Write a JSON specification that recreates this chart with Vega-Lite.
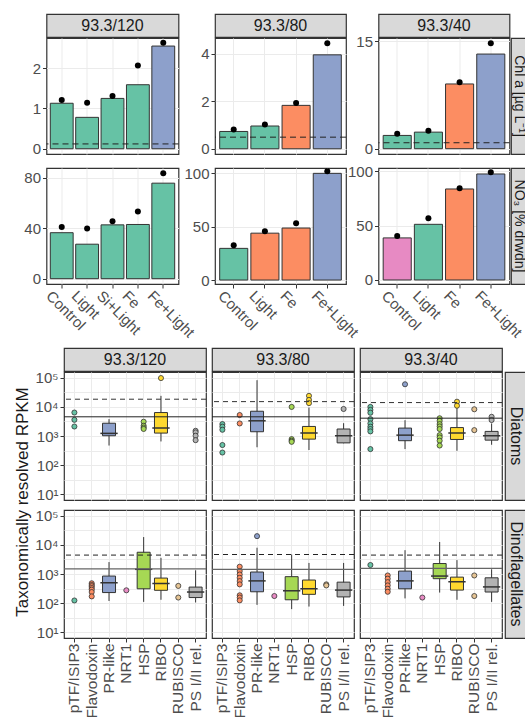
{
"$schema": "https://vega.github.io/schema/vega-lite/v6.json",
"background": "white",
"padding": {"left": 13, "top": 13, "right": 0, "bottom": 0},
"config": {
  "font": "Liberation Sans",
  "view": {"stroke": "#333333", "strokeWidth": 1.2},
  "axis": {"domain": false, "labelColor": "#4d4d4d", "labelFontSize": 15, "labelFont": "Liberation Sans", "tickColor": "#333333", "tickSize": 4, "tickWidth": 1, "labelPadding": 2, "gridColor": "#ebebeb", "gridWidth": 1, "labelOverlap": false},
  "text": {"font": "Liberation Sans"}
},
"datasets": {
  "labels": [{"s": "93.3/120"}, {"s": "93.3/80"}, {"s": "93.3/40"}, {"s": "Chl a [µg L⁻¹]"}, {"s": "NO₃ [% drwdn]"}, {"s": "Diatoms"}, {"s": "Dinoflagellates"}, {"s": "Taxonomically resolved RPKM"}],
  "top": [
    {"v":"Chl","site":"93.3/120","trt":"Control","bar":1.13,"pt":1.21,"grp":"A"},
    {"v":"Chl","site":"93.3/120","trt":"Light","bar":0.78,"pt":1.14,"grp":"A"},
    {"v":"Chl","site":"93.3/120","trt":"Si+Light","bar":1.25,"pt":1.31,"grp":"A"},
    {"v":"Chl","site":"93.3/120","trt":"Fe","bar":1.59,"pt":2.07,"grp":"A"},
    {"v":"Chl","site":"93.3/120","trt":"Fe+Light","bar":2.55,"pt":2.63,"grp":"C"},
    {"v":"Chl","site":"93.3/80","trt":"Control","bar":0.73,"pt":0.81,"grp":"A"},
    {"v":"Chl","site":"93.3/80","trt":"Light","bar":0.96,"pt":1.02,"grp":"A"},
    {"v":"Chl","site":"93.3/80","trt":"Fe","bar":1.83,"pt":1.93,"grp":"B"},
    {"v":"Chl","site":"93.3/80","trt":"Fe+Light","bar":3.96,"pt":4.45,"grp":"C"},
    {"v":"Chl","site":"93.3/40","trt":"Control","bar":1.85,"pt":2.08,"grp":"A"},
    {"v":"Chl","site":"93.3/40","trt":"Light","bar":2.31,"pt":2.5,"grp":"A"},
    {"v":"Chl","site":"93.3/40","trt":"Fe","bar":9.03,"pt":9.26,"grp":"B"},
    {"v":"Chl","site":"93.3/40","trt":"Fe+Light","bar":13.2,"pt":14.7,"grp":"C"},
    {"v":"NO3","site":"93.3/120","trt":"Control","bar":36.4,"pt":41.0,"grp":"A"},
    {"v":"NO3","site":"93.3/120","trt":"Light","bar":27.3,"pt":39.7,"grp":"A"},
    {"v":"NO3","site":"93.3/120","trt":"Si+Light","bar":42.6,"pt":45.5,"grp":"A"},
    {"v":"NO3","site":"93.3/120","trt":"Fe","bar":42.9,"pt":53.2,"grp":"A"},
    {"v":"NO3","site":"93.3/120","trt":"Fe+Light","bar":75.6,"pt":83.4,"grp":"A"},
    {"v":"NO3","site":"93.3/80","trt":"Control","bar":29.6,"pt":32.4,"grp":"A"},
    {"v":"NO3","site":"93.3/80","trt":"Light","bar":43.8,"pt":45.6,"grp":"B"},
    {"v":"NO3","site":"93.3/80","trt":"Fe","bar":48.6,"pt":53.0,"grp":"B"},
    {"v":"NO3","site":"93.3/80","trt":"Fe+Light","bar":99.7,"pt":101.6,"grp":"C"},
    {"v":"NO3","site":"93.3/40","trt":"Control","bar":38.7,"pt":40.5,"grp":"D"},
    {"v":"NO3","site":"93.3/40","trt":"Light","bar":51.2,"pt":56.7,"grp":"A"},
    {"v":"NO3","site":"93.3/40","trt":"Fe","bar":83.7,"pt":84.4,"grp":"B"},
    {"v":"NO3","site":"93.3/40","trt":"Fe+Light","bar":97.5,"pt":99.1,"grp":"C"}
  ],
  "tbase": [{"site":"93.3/120","base":0.12},{"site":"93.3/80","base":0.49},{"site":"93.3/40","base":0.83}],
  "boxes": [
    {"taxon":"Diatoms","site":"93.3/120","gene":"PR-like","lo":470,"q1":1020,"med":1230,"q3":2750,"hi":3800},
    {"taxon":"Diatoms","site":"93.3/120","gene":"RIBO","lo":650,"q1":1260,"med":1870,"q3":6400,"hi":24000},
    {"taxon":"Diatoms","site":"93.3/80","gene":"PR-like","lo":410,"q1":1400,"med":3330,"q3":7100,"hi":83000},
    {"taxon":"Diatoms","site":"93.3/80","gene":"RIBO","lo":330,"q1":780,"med":1270,"q3":2130,"hi":9500},
    {"taxon":"Diatoms","site":"93.3/80","gene":"PS I/II rel.","lo":560,"q1":580,"med":1020,"q3":1740,"hi":2760},
    {"taxon":"Diatoms","site":"93.3/40","gene":"PR-like","lo":355,"q1":690,"med":1070,"q3":1870,"hi":3500},
    {"taxon":"Diatoms","site":"93.3/40","gene":"RIBO","lo":310,"q1":760,"med":1260,"q3":1950,"hi":9500},
    {"taxon":"Diatoms","site":"93.3/40","gene":"PS I/II rel.","lo":500,"q1":720,"med":1020,"q3":1440,"hi":2700},
    {"taxon":"Dinoflagellates","site":"93.3/120","gene":"PR-like","lo":118,"q1":230,"med":500,"q3":850,"hi":2570},
    {"taxon":"Dinoflagellates","site":"93.3/120","gene":"HSP","lo":110,"q1":310,"med":1450,"q3":5600,"hi":18600},
    {"taxon":"Dinoflagellates","site":"93.3/120","gene":"RIBO","lo":130,"q1":275,"med":470,"q3":725,"hi":3600},
    {"taxon":"Dinoflagellates","site":"93.3/120","gene":"PS I/II rel.","lo":105,"q1":155,"med":240,"q3":355,"hi":1340},
    {"taxon":"Dinoflagellates","site":"93.3/80","gene":"PR-like","lo":87,"q1":245,"med":580,"q3":1170,"hi":8000},
    {"taxon":"Dinoflagellates","site":"93.3/80","gene":"HSP","lo":62,"q1":130,"med":265,"q3":810,"hi":4700},
    {"taxon":"Dinoflagellates","site":"93.3/80","gene":"RIBO","lo":76,"q1":200,"med":310,"q3":620,"hi":2400},
    {"taxon":"Dinoflagellates","site":"93.3/80","gene":"PS I/II rel.","lo":80,"q1":163,"med":280,"q3":525,"hi":2400},
    {"taxon":"Dinoflagellates","site":"93.3/40","gene":"PR-like","lo":145,"q1":310,"med":580,"q3":1260,"hi":6600},
    {"taxon":"Dinoflagellates","site":"93.3/40","gene":"HSP","lo":230,"q1":690,"med":850,"q3":2290,"hi":12600},
    {"taxon":"Dinoflagellates","site":"93.3/40","gene":"RIBO","lo":130,"q1":280,"med":540,"q3":780,"hi":3000},
    {"taxon":"Dinoflagellates","site":"93.3/40","gene":"PS I/II rel.","lo":110,"q1":240,"med":360,"q3":740,"hi":1450}
  ],
  "pts": [
    {"taxon":"Diatoms","site":"93.3/120","gene":"pTF/ISIP3","v":6400},
    {"taxon":"Diatoms","site":"93.3/120","gene":"pTF/ISIP3","v":3600},
    {"taxon":"Diatoms","site":"93.3/120","gene":"pTF/ISIP3","v":2120},
    {"taxon":"Diatoms","site":"93.3/120","gene":"HSP","v":3100},
    {"taxon":"Diatoms","site":"93.3/120","gene":"HSP","v":2250},
    {"taxon":"Diatoms","site":"93.3/120","gene":"HSP","v":1950},
    {"taxon":"Diatoms","site":"93.3/120","gene":"HSP","v":1750},
    {"taxon":"Diatoms","site":"93.3/120","gene":"RIBO","v":98000},
    {"taxon":"Diatoms","site":"93.3/120","gene":"PS I/II rel.","v":1510},
    {"taxon":"Diatoms","site":"93.3/120","gene":"PS I/II rel.","v":1330},
    {"taxon":"Diatoms","site":"93.3/120","gene":"PS I/II rel.","v":1020},
    {"taxon":"Diatoms","site":"93.3/120","gene":"PS I/II rel.","v":720},
    {"taxon":"Diatoms","site":"93.3/80","gene":"pTF/ISIP3","v":2570},
    {"taxon":"Diatoms","site":"93.3/80","gene":"pTF/ISIP3","v":2090},
    {"taxon":"Diatoms","site":"93.3/80","gene":"pTF/ISIP3","v":1640},
    {"taxon":"Diatoms","site":"93.3/80","gene":"pTF/ISIP3","v":490},
    {"taxon":"Diatoms","site":"93.3/80","gene":"pTF/ISIP3","v":270},
    {"taxon":"Diatoms","site":"93.3/80","gene":"Flavodoxin","v":5250},
    {"taxon":"Diatoms","site":"93.3/80","gene":"Flavodoxin","v":2700},
    {"taxon":"Diatoms","site":"93.3/80","gene":"HSP","v":10000},
    {"taxon":"Diatoms","site":"93.3/80","gene":"HSP","v":780},
    {"taxon":"Diatoms","site":"93.3/80","gene":"HSP","v":690},
    {"taxon":"Diatoms","site":"93.3/80","gene":"HSP","v":630},
    {"taxon":"Diatoms","site":"93.3/80","gene":"RIBO","v":24000},
    {"taxon":"Diatoms","site":"93.3/80","gene":"RIBO","v":17400},
    {"taxon":"Diatoms","site":"93.3/80","gene":"RIBO","v":13500},
    {"taxon":"Diatoms","site":"93.3/80","gene":"PS I/II rel.","v":8500},
    {"taxon":"Diatoms","site":"93.3/40","gene":"pTF/ISIP3","v":10000},
    {"taxon":"Diatoms","site":"93.3/40","gene":"pTF/ISIP3","v":7900},
    {"taxon":"Diatoms","site":"93.3/40","gene":"pTF/ISIP3","v":6300},
    {"taxon":"Diatoms","site":"93.3/40","gene":"pTF/ISIP3","v":3800},
    {"taxon":"Diatoms","site":"93.3/40","gene":"pTF/ISIP3","v":2700},
    {"taxon":"Diatoms","site":"93.3/40","gene":"pTF/ISIP3","v":2090},
    {"taxon":"Diatoms","site":"93.3/40","gene":"pTF/ISIP3","v":1740},
    {"taxon":"Diatoms","site":"93.3/40","gene":"pTF/ISIP3","v":1440},
    {"taxon":"Diatoms","site":"93.3/40","gene":"pTF/ISIP3","v":355},
    {"taxon":"Diatoms","site":"93.3/40","gene":"PR-like","v":60000},
    {"taxon":"Diatoms","site":"93.3/40","gene":"HSP","v":4070},
    {"taxon":"Diatoms","site":"93.3/40","gene":"HSP","v":3310},
    {"taxon":"Diatoms","site":"93.3/40","gene":"HSP","v":2570},
    {"taxon":"Diatoms","site":"93.3/40","gene":"HSP","v":2130},
    {"taxon":"Diatoms","site":"93.3/40","gene":"HSP","v":1740},
    {"taxon":"Diatoms","site":"93.3/40","gene":"HSP","v":1070},
    {"taxon":"Diatoms","site":"93.3/40","gene":"HSP","v":890},
    {"taxon":"Diatoms","site":"93.3/40","gene":"HSP","v":690},
    {"taxon":"Diatoms","site":"93.3/40","gene":"HSP","v":470},
    {"taxon":"Diatoms","site":"93.3/40","gene":"RIBO","v":15100},
    {"taxon":"Diatoms","site":"93.3/40","gene":"RIBO","v":11000},
    {"taxon":"Diatoms","site":"93.3/40","gene":"RUBISCO","v":8300},
    {"taxon":"Diatoms","site":"93.3/40","gene":"RUBISCO","v":1590},
    {"taxon":"Diatoms","site":"93.3/40","gene":"PS I/II rel.","v":4570},
    {"taxon":"Diatoms","site":"93.3/40","gene":"PS I/II rel.","v":3550},
    {"taxon":"Dinoflagellates","site":"93.3/120","gene":"pTF/ISIP3","v":123},
    {"taxon":"Dinoflagellates","site":"93.3/120","gene":"Flavodoxin","v":480},
    {"taxon":"Dinoflagellates","site":"93.3/120","gene":"Flavodoxin","v":420},
    {"taxon":"Dinoflagellates","site":"93.3/120","gene":"Flavodoxin","v":380},
    {"taxon":"Dinoflagellates","site":"93.3/120","gene":"Flavodoxin","v":330},
    {"taxon":"Dinoflagellates","site":"93.3/120","gene":"Flavodoxin","v":290},
    {"taxon":"Dinoflagellates","site":"93.3/120","gene":"Flavodoxin","v":240},
    {"taxon":"Dinoflagellates","site":"93.3/120","gene":"Flavodoxin","v":170},
    {"taxon":"Dinoflagellates","site":"93.3/120","gene":"NRT1","v":275},
    {"taxon":"Dinoflagellates","site":"93.3/120","gene":"RUBISCO","v":390},
    {"taxon":"Dinoflagellates","site":"93.3/120","gene":"RUBISCO","v":155},
    {"taxon":"Dinoflagellates","site":"93.3/80","gene":"Flavodoxin","v":1780},
    {"taxon":"Dinoflagellates","site":"93.3/80","gene":"Flavodoxin","v":1260},
    {"taxon":"Dinoflagellates","site":"93.3/80","gene":"Flavodoxin","v":960},
    {"taxon":"Dinoflagellates","site":"93.3/80","gene":"Flavodoxin","v":740},
    {"taxon":"Dinoflagellates","site":"93.3/80","gene":"Flavodoxin","v":570},
    {"taxon":"Dinoflagellates","site":"93.3/80","gene":"Flavodoxin","v":440},
    {"taxon":"Dinoflagellates","site":"93.3/80","gene":"Flavodoxin","v":185},
    {"taxon":"Dinoflagellates","site":"93.3/80","gene":"Flavodoxin","v":155},
    {"taxon":"Dinoflagellates","site":"93.3/80","gene":"Flavodoxin","v":124},
    {"taxon":"Dinoflagellates","site":"93.3/80","gene":"PR-like","v":20000},
    {"taxon":"Dinoflagellates","site":"93.3/80","gene":"NRT1","v":175},
    {"taxon":"Dinoflagellates","site":"93.3/80","gene":"RUBISCO","v":440},
    {"taxon":"Dinoflagellates","site":"93.3/80","gene":"RUBISCO","v":405},
    {"taxon":"Dinoflagellates","site":"93.3/40","gene":"pTF/ISIP3","v":2040},
    {"taxon":"Dinoflagellates","site":"93.3/40","gene":"Flavodoxin","v":890},
    {"taxon":"Dinoflagellates","site":"93.3/40","gene":"Flavodoxin","v":690},
    {"taxon":"Dinoflagellates","site":"93.3/40","gene":"Flavodoxin","v":525},
    {"taxon":"Dinoflagellates","site":"93.3/40","gene":"Flavodoxin","v":405},
    {"taxon":"Dinoflagellates","site":"93.3/40","gene":"Flavodoxin","v":310},
    {"taxon":"Dinoflagellates","site":"93.3/40","gene":"Flavodoxin","v":245},
    {"taxon":"Dinoflagellates","site":"93.3/40","gene":"NRT1","v":155},
    {"taxon":"Dinoflagellates","site":"93.3/40","gene":"RUBISCO","v":890},
    {"taxon":"Dinoflagellates","site":"93.3/40","gene":"RUBISCO","v":175}
  ],
  "refl": [
    {"taxon":"Diatoms","site":"93.3/120","solid":4570,"dashed":18400},
    {"taxon":"Diatoms","site":"93.3/80","solid":4570,"dashed":15200},
    {"taxon":"Diatoms","site":"93.3/40","solid":4100,"dashed":14100},
    {"taxon":"Dinoflagellates","site":"93.3/120","solid":1510,"dashed":4470},
    {"taxon":"Dinoflagellates","site":"93.3/80","solid":1440,"dashed":4680},
    {"taxon":"Dinoflagellates","site":"93.3/40","solid":1550,"dashed":4470}
  ]
},
"spacing": 6,
"vconcat": [
{
 "spacing": 497,
 "bounds": "flush",
 "hconcat": [
 {
  "columns": 4, "align": "each", "spacing": {"row": -8, "column": -14.5},
  "concat": [
    {"width": 22.5, "height": 1, "data": {"name": "labels"}, "transform": [{"filter": "false"}], "mark": "text", "encoding": {}, "view": {"stroke": null}},
    {"width": 132, "height": 23, "data": {"name": "labels"}, "transform": [{"filter": "datum.s == '93.3/120'"}], "mark": {"type": "text", "fontSize": 16, "color": "#1a1a1a"}, "encoding": {"text": {"field": "s", "type": "nominal"}}, "view": {"fill": "#d9d9d9", "stroke": "#333333", "strokeWidth": 1.2}},
    {"width": 131, "height": 23, "data": {"name": "labels"}, "transform": [{"filter": "datum.s == '93.3/80'"}], "mark": {"type": "text", "fontSize": 16, "color": "#1a1a1a"}, "encoding": {"text": {"field": "s", "type": "nominal"}}, "view": {"fill": "#d9d9d9", "stroke": "#333333", "strokeWidth": 1.2}},
    {"width": 131, "height": 23, "data": {"name": "labels"}, "transform": [{"filter": "datum.s == '93.3/40'"}], "mark": {"type": "text", "fontSize": 16, "color": "#1a1a1a"}, "encoding": {"text": {"field": "s", "type": "nominal"}}, "view": {"fill": "#d9d9d9", "stroke": "#333333", "strokeWidth": 1.2}},

    {"width": 22.5, "height": 1, "data": {"name": "labels"}, "transform": [{"filter": "false"}], "mark": "text", "encoding": {}, "view": {"stroke": null}},
    {"width": 132, "height": 116, "data": {"name": "top"}, "transform": [{"filter": "datum.v == 'Chl' && datum.site == '93.3/120'"}],
     "layer": [
      {"mark": {"type": "bar", "stroke": "#333333", "strokeWidth": 1, "width": {"band": 0.9}},
       "encoding": {
        "x": {"field": "trt", "type": "nominal", "sort": ["Control","Light","Si+Light","Fe","Fe+Light"], "scale": {"paddingInner": 0, "paddingOuter": 0.1}, "axis": {"title": null, "labels": false, "tickColor": "transparent", "tickSize": 12, "grid": true}},
        "y": {"field": "bar", "type": "quantitative", "scale": {"domain": [-0.13, 2.75], "nice": false, "zero": false}, "axis": {"title": null, "values": [0,0.5,1,1.5,2,2.5], "labelExpr": "datum.value % 1 == 0 ? datum.label : ''", "tickOpacity": {"condition": {"test": "datum.value % 1 == 0", "value": 1}, "value": 0}}},
        "y2": {"datum": 0},
        "color": {"field": "grp", "type": "nominal", "scale": {"domain": ["A","B","C","D"], "range": ["#66c2a5","#fc8d62","#8da0cb","#e78ac3"]}, "legend": null}}},
      {"data": {"name": "tbase"}, "transform": [{"filter": "datum.site == '93.3/120'"}], "mark": {"type": "rule", "color": "#222222", "strokeWidth": 1, "strokeDash": [6,4]}, "encoding": {"y": {"field": "base", "type": "quantitative"}}},
      {"mark": {"type": "point", "filled": true, "color": "black", "size": 36, "opacity": 1}, "encoding": {"x": {"field": "trt", "type": "nominal", "sort": ["Control","Light","Si+Light","Fe","Fe+Light"]}, "y": {"field": "pt", "type": "quantitative"}}}
     ]},
    {"width": 131, "height": 116, "data": {"name": "top"}, "transform": [{"filter": "datum.v == 'Chl' && datum.site == '93.3/80'"}],
     "layer": [
      {"mark": {"type": "bar", "stroke": "#333333", "strokeWidth": 1, "width": {"band": 0.9}},
       "encoding": {
        "x": {"field": "trt", "type": "nominal", "sort": ["Control","Light","Fe","Fe+Light"], "scale": {"paddingInner": 0, "paddingOuter": 0.1}, "axis": {"title": null, "labels": false, "tickColor": "transparent", "tickSize": 12, "grid": true}},
        "y": {"field": "bar", "type": "quantitative", "scale": {"domain": [-0.22, 4.67], "nice": false, "zero": false}, "axis": {"title": null, "values": [0,1,2,3,4], "labelExpr": "datum.value % 2 == 0 ? datum.label : ''", "tickOpacity": {"condition": {"test": "datum.value % 2 == 0", "value": 1}, "value": 0}}},
        "y2": {"datum": 0},
        "color": {"field": "grp", "type": "nominal", "scale": {"domain": ["A","B","C","D"], "range": ["#66c2a5","#fc8d62","#8da0cb","#e78ac3"]}, "legend": null}}},
      {"data": {"name": "tbase"}, "transform": [{"filter": "datum.site == '93.3/80'"}], "mark": {"type": "rule", "color": "#222222", "strokeWidth": 1, "strokeDash": [6,4]}, "encoding": {"y": {"field": "base", "type": "quantitative"}}},
      {"mark": {"type": "point", "filled": true, "color": "black", "size": 36, "opacity": 1}, "encoding": {"x": {"field": "trt", "type": "nominal", "sort": ["Control","Light","Fe","Fe+Light"]}, "y": {"field": "pt", "type": "quantitative"}}}
     ]},
    {"width": 131, "height": 116, "data": {"name": "top"}, "transform": [{"filter": "datum.v == 'Chl' && datum.site == '93.3/40'"}],
     "layer": [
      {"mark": {"type": "bar", "stroke": "#333333", "strokeWidth": 1, "width": {"band": 0.9}},
       "encoding": {
        "x": {"field": "trt", "type": "nominal", "sort": ["Control","Light","Fe","Fe+Light"], "scale": {"paddingInner": 0, "paddingOuter": 0.1}, "axis": {"title": null, "labels": false, "tickColor": "transparent", "tickSize": 12, "grid": true}},
        "y": {"field": "bar", "type": "quantitative", "scale": {"domain": [-0.74, 15.44], "nice": false, "zero": false}, "axis": {"title": null, "values": [0,2.5,5,7.5,10,12.5,15], "labelExpr": "datum.value % 5 == 0 ? datum.label : ''", "tickOpacity": {"condition": {"test": "datum.value % 5 == 0", "value": 1}, "value": 0}}},
        "y2": {"datum": 0},
        "color": {"field": "grp", "type": "nominal", "scale": {"domain": ["A","B","C","D"], "range": ["#66c2a5","#fc8d62","#8da0cb","#e78ac3"]}, "legend": null}}},
      {"data": {"name": "tbase"}, "transform": [{"filter": "datum.site == '93.3/40'"}], "mark": {"type": "rule", "color": "#222222", "strokeWidth": 1, "strokeDash": [6,4]}, "encoding": {"y": {"field": "base", "type": "quantitative"}}},
      {"mark": {"type": "point", "filled": true, "color": "black", "size": 36, "opacity": 1}, "encoding": {"x": {"field": "trt", "type": "nominal", "sort": ["Control","Light","Fe","Fe+Light"]}, "y": {"field": "pt", "type": "quantitative"}}}
     ]},

    {"width": 22.5, "height": 1, "data": {"name": "labels"}, "transform": [{"filter": "false"}], "mark": "text", "encoding": {}, "view": {"stroke": null}},
    {"width": 132, "height": 116, "data": {"name": "top"}, "transform": [{"filter": "datum.v == 'NO3' && datum.site == '93.3/120'"}],
     "layer": [
      {"mark": {"type": "bar", "stroke": "#333333", "strokeWidth": 1, "width": {"band": 0.9}},
       "encoding": {
        "x": {"field": "trt", "type": "nominal", "sort": ["Control","Light","Si+Light","Fe","Fe+Light"], "scale": {"paddingInner": 0, "paddingOuter": 0.1}, "axis": {"title": null, "labelAngle": 45, "labelAlign": "left", "labelBaseline": "top", "labelOffset": -8, "labelPadding": 0, "grid": true}},
        "y": {"field": "bar", "type": "quantitative", "scale": {"domain": [-4.2, 87.6], "nice": false, "zero": false}, "axis": {"title": null, "values": [0,20,40,60,80], "labelExpr": "datum.value % 40 == 0 ? datum.label : ''", "tickOpacity": {"condition": {"test": "datum.value % 40 == 0", "value": 1}, "value": 0}}},
        "y2": {"datum": 0},
        "color": {"field": "grp", "type": "nominal", "scale": {"domain": ["A","B","C","D"], "range": ["#66c2a5","#fc8d62","#8da0cb","#e78ac3"]}, "legend": null}}},
      {"mark": {"type": "point", "filled": true, "color": "black", "size": 36, "opacity": 1}, "encoding": {"x": {"field": "trt", "type": "nominal", "sort": ["Control","Light","Si+Light","Fe","Fe+Light"]}, "y": {"field": "pt", "type": "quantitative"}}}
     ]},
    {"width": 131, "height": 116, "data": {"name": "top"}, "transform": [{"filter": "datum.v == 'NO3' && datum.site == '93.3/80'"}],
     "layer": [
      {"mark": {"type": "bar", "stroke": "#333333", "strokeWidth": 1, "width": {"band": 0.9}},
       "encoding": {
        "x": {"field": "trt", "type": "nominal", "sort": ["Control","Light","Fe","Fe+Light"], "scale": {"paddingInner": 0, "paddingOuter": 0.1}, "axis": {"title": null, "labelAngle": 45, "labelAlign": "left", "labelBaseline": "top", "labelOffset": -8, "labelPadding": 0, "grid": true}},
        "y": {"field": "bar", "type": "quantitative", "scale": {"domain": [-3.7, 104.7], "nice": false, "zero": false}, "axis": {"title": null, "values": [0,25,50,75,100], "labelExpr": "datum.value % 50 == 0 ? datum.label : ''", "tickOpacity": {"condition": {"test": "datum.value % 50 == 0", "value": 1}, "value": 0}}},
        "y2": {"datum": 0},
        "color": {"field": "grp", "type": "nominal", "scale": {"domain": ["A","B","C","D"], "range": ["#66c2a5","#fc8d62","#8da0cb","#e78ac3"]}, "legend": null}}},
      {"mark": {"type": "point", "filled": true, "color": "black", "size": 36, "opacity": 1}, "encoding": {"x": {"field": "trt", "type": "nominal", "sort": ["Control","Light","Fe","Fe+Light"]}, "y": {"field": "pt", "type": "quantitative"}}}
     ]},
    {"width": 131, "height": 116, "data": {"name": "top"}, "transform": [{"filter": "datum.v == 'NO3' && datum.site == '93.3/40'"}],
     "layer": [
      {"mark": {"type": "bar", "stroke": "#333333", "strokeWidth": 1, "width": {"band": 0.9}},
       "encoding": {
        "x": {"field": "trt", "type": "nominal", "sort": ["Control","Light","Fe","Fe+Light"], "scale": {"paddingInner": 0, "paddingOuter": 0.1}, "axis": {"title": null, "labelAngle": 45, "labelAlign": "left", "labelBaseline": "top", "labelOffset": -8, "labelPadding": 0, "grid": true}},
        "y": {"field": "bar", "type": "quantitative", "scale": {"domain": [-3.7, 103], "nice": false, "zero": false}, "axis": {"title": null, "values": [0,25,50,75,100], "labelExpr": "datum.value % 50 == 0 ? datum.label : ''", "tickOpacity": {"condition": {"test": "datum.value % 50 == 0", "value": 1}, "value": 0}}},
        "y2": {"datum": 0},
        "color": {"field": "grp", "type": "nominal", "scale": {"domain": ["A","B","C","D"], "range": ["#66c2a5","#fc8d62","#8da0cb","#e78ac3"]}, "legend": null}}},
      {"mark": {"type": "point", "filled": true, "color": "black", "size": 36, "opacity": 1}, "encoding": {"x": {"field": "trt", "type": "nominal", "sort": ["Control","Light","Fe","Fe+Light"]}, "y": {"field": "pt", "type": "quantitative"}}}
     ]}
  ]
 },
 {
  "spacing": 12,
  "vconcat": [
    {"width": 15, "height": 11, "data": {"name": "labels"}, "transform": [{"filter": "false"}], "mark": "text", "encoding": {}, "view": {"stroke": null}},
    {"width": 15, "height": 116, "data": {"name": "labels"}, "transform": [{"filter": "datum.s == 'Chl a [µg L⁻¹]'"}], "mark": {"type": "text", "fontSize": 14, "angle": 90, "color": "#1a1a1a"}, "encoding": {"text": {"field": "s", "type": "nominal"}}, "view": {"fill": "#d9d9d9", "stroke": "#333333", "strokeWidth": 1.2}},
    {"width": 15, "height": 116, "data": {"name": "labels"}, "transform": [{"filter": "datum.s == 'NO₃ [% drwdn]'"}], "mark": {"type": "text", "fontSize": 14, "angle": 90, "color": "#1a1a1a"}, "encoding": {"text": {"field": "s", "type": "nominal"}}, "view": {"fill": "#d9d9d9", "stroke": "#333333", "strokeWidth": 1.2}}
  ]
 }
 ]
},
{
  "spacing": 3,
  "hconcat": [
    {"width": 17, "height": 308, "data": {"name": "labels"}, "transform": [{"filter": "datum.s == 'Taxonomically resolved RPKM'"}], "mark": {"type": "text", "fontSize": 17, "angle": 270, "color": "#1a1a1a"}, "encoding": {"text": {"field": "s", "type": "nominal"}}, "view": {"stroke": null}},
    {
      "columns": 3, "align": "each", "spacing": {"row": -3.5, "column": 2},
      "concat": [
        {"width": 142, "height": 23, "data": {"name": "labels"}, "transform": [{"filter": "datum.s == '93.3/120'"}], "mark": {"type": "text", "fontSize": 16, "color": "#1a1a1a"}, "encoding": {"text": {"field": "s", "type": "nominal"}}, "view": {"fill": "#d9d9d9", "stroke": "#333333", "strokeWidth": 1.2}},
        {"width": 142, "height": 23, "data": {"name": "labels"}, "transform": [{"filter": "datum.s == '93.3/80'"}], "mark": {"type": "text", "fontSize": 16, "color": "#1a1a1a"}, "encoding": {"text": {"field": "s", "type": "nominal"}}, "view": {"fill": "#d9d9d9", "stroke": "#333333", "strokeWidth": 1.2}},
        {"width": 142, "height": 23, "data": {"name": "labels"}, "transform": [{"filter": "datum.s == '93.3/40'"}], "mark": {"type": "text", "fontSize": 16, "color": "#1a1a1a"}, "encoding": {"text": {"field": "s", "type": "nominal"}}, "view": {"fill": "#d9d9d9", "stroke": "#333333", "strokeWidth": 1.2}},

        {"width": 142, "height": 128, "layer": [
          {"data": {"name": "boxes"}, "transform": [{"filter": "datum.taxon == 'Diatoms' && datum.site == '93.3/120'"}], "mark": {"type": "rule", "color": "#333333"},
           "encoding": {"x": {"field": "gene", "type": "nominal", "scale": {"domain": ["pTF/ISIP3","Flavodoxin","PR-like","NRT1","HSP","RIBO","RUBISCO","PS I/II rel."], "paddingInner": 0, "paddingOuter": 0.1}, "axis": {"title": null, "labels": false, "tickColor": "transparent", "tickSize": 8.5, "grid": true}},
             "y": {"field": "lo", "type": "quantitative", "scale": {"type": "log", "domain": [6.3096, 158489], "nice": false}, "axis": {"title": null, "grid": true, "values": [10,31.62,100,316.2,1000,3162,10000,31623,100000], "labelExpr": "indexof([10,100,1000,10000,100000], datum.value) >= 0 ? '10' + ['¹','²','³','⁴','⁵'][indexof([10,100,1000,10000,100000], datum.value)] : ''", "tickOpacity": {"condition": {"test": "indexof([10,100,1000,10000,100000], datum.value) >= 0", "value": 1}, "value": 0}}},
             "y2": {"field": "hi"}}},
          {"data": {"name": "boxes"}, "transform": [{"filter": "datum.taxon == 'Diatoms' && datum.site == '93.3/120'"}], "mark": {"type": "bar", "stroke": "#333333", "strokeWidth": 1, "width": {"band": 0.75}},
           "encoding": {"x": {"field": "gene", "type": "nominal"}, "y": {"field": "q1", "type": "quantitative"}, "y2": {"field": "q3"}, "fill": {"field": "gene", "type": "nominal", "scale": {"domain": ["pTF/ISIP3","Flavodoxin","PR-like","NRT1","HSP","RIBO","RUBISCO","PS I/II rel."], "range": ["#66c2a5","#fc8d62","#8da0cb","#e78ac3","#a6d854","#ffd92f","#e5c494","#b3b3b3"]}, "legend": null}}},
          {"data": {"name": "boxes"}, "transform": [{"filter": "datum.taxon == 'Diatoms' && datum.site == '93.3/120'"}], "mark": {"type": "tick", "color": "#333333", "thickness": 1.5, "opacity": 1},
           "encoding": {"x": {"field": "gene", "type": "nominal"}, "y": {"field": "med", "type": "quantitative"}}},
          {"data": {"name": "pts"}, "transform": [{"filter": "datum.taxon == 'Diatoms' && datum.site == '93.3/120'"}], "mark": {"type": "point", "shape": "circle", "filled": true, "stroke": "#333333", "strokeWidth": 0.8, "size": 26, "opacity": 1},
           "encoding": {"x": {"field": "gene", "type": "nominal"}, "y": {"field": "v", "type": "quantitative"}, "fill": {"field": "gene", "type": "nominal", "legend": null}}},
          {"data": {"name": "refl"}, "transform": [{"filter": "datum.taxon == 'Diatoms' && datum.site == '93.3/120'"}], "mark": {"type": "rule", "color": "#222222", "strokeWidth": 1}, "encoding": {"y": {"field": "solid", "type": "quantitative"}}},
          {"data": {"name": "refl"}, "transform": [{"filter": "datum.taxon == 'Diatoms' && datum.site == '93.3/120'"}], "mark": {"type": "rule", "color": "#333333", "strokeWidth": 1, "strokeDash": [5,4]}, "encoding": {"y": {"field": "dashed", "type": "quantitative"}}}
        ]},
        {"width": 142, "height": 128, "layer": [
          {"data": {"name": "boxes"}, "transform": [{"filter": "datum.taxon == 'Diatoms' && datum.site == '93.3/80'"}], "mark": {"type": "rule", "color": "#333333"},
           "encoding": {"x": {"field": "gene", "type": "nominal", "scale": {"domain": ["pTF/ISIP3","Flavodoxin","PR-like","NRT1","HSP","RIBO","RUBISCO","PS I/II rel."], "paddingInner": 0, "paddingOuter": 0.1}, "axis": {"title": null, "labels": false, "tickColor": "transparent", "tickSize": 8.5, "grid": true}},
             "y": {"field": "lo", "type": "quantitative", "scale": {"type": "log", "domain": [6.3096, 158489], "nice": false}, "axis": {"title": null, "grid": true, "labels": false, "ticks": false, "values": [10,31.62,100,316.2,1000,3162,10000,31623,100000]}},
             "y2": {"field": "hi"}}},
          {"data": {"name": "boxes"}, "transform": [{"filter": "datum.taxon == 'Diatoms' && datum.site == '93.3/80'"}], "mark": {"type": "bar", "stroke": "#333333", "strokeWidth": 1, "width": {"band": 0.75}},
           "encoding": {"x": {"field": "gene", "type": "nominal"}, "y": {"field": "q1", "type": "quantitative"}, "y2": {"field": "q3"}, "fill": {"field": "gene", "type": "nominal", "scale": {"domain": ["pTF/ISIP3","Flavodoxin","PR-like","NRT1","HSP","RIBO","RUBISCO","PS I/II rel."], "range": ["#66c2a5","#fc8d62","#8da0cb","#e78ac3","#a6d854","#ffd92f","#e5c494","#b3b3b3"]}, "legend": null}}},
          {"data": {"name": "boxes"}, "transform": [{"filter": "datum.taxon == 'Diatoms' && datum.site == '93.3/80'"}], "mark": {"type": "tick", "color": "#333333", "thickness": 1.5, "opacity": 1},
           "encoding": {"x": {"field": "gene", "type": "nominal"}, "y": {"field": "med", "type": "quantitative"}}},
          {"data": {"name": "pts"}, "transform": [{"filter": "datum.taxon == 'Diatoms' && datum.site == '93.3/80'"}], "mark": {"type": "point", "shape": "circle", "filled": true, "stroke": "#333333", "strokeWidth": 0.8, "size": 26, "opacity": 1},
           "encoding": {"x": {"field": "gene", "type": "nominal"}, "y": {"field": "v", "type": "quantitative"}, "fill": {"field": "gene", "type": "nominal", "legend": null}}},
          {"data": {"name": "refl"}, "transform": [{"filter": "datum.taxon == 'Diatoms' && datum.site == '93.3/80'"}], "mark": {"type": "rule", "color": "#222222", "strokeWidth": 1}, "encoding": {"y": {"field": "solid", "type": "quantitative"}}},
          {"data": {"name": "refl"}, "transform": [{"filter": "datum.taxon == 'Diatoms' && datum.site == '93.3/80'"}], "mark": {"type": "rule", "color": "#333333", "strokeWidth": 1, "strokeDash": [5,4]}, "encoding": {"y": {"field": "dashed", "type": "quantitative"}}}
        ]},
        {"spacing": 0, "hconcat": [
          {"width": 142, "height": 128, "layer": [
            {"data": {"name": "boxes"}, "transform": [{"filter": "datum.taxon == 'Diatoms' && datum.site == '93.3/40'"}], "mark": {"type": "rule", "color": "#333333"},
             "encoding": {"x": {"field": "gene", "type": "nominal", "scale": {"domain": ["pTF/ISIP3","Flavodoxin","PR-like","NRT1","HSP","RIBO","RUBISCO","PS I/II rel."], "paddingInner": 0, "paddingOuter": 0.1}, "axis": {"title": null, "labels": false, "tickColor": "transparent", "tickSize": 8.5, "grid": true}},
               "y": {"field": "lo", "type": "quantitative", "scale": {"type": "log", "domain": [6.3096, 158489], "nice": false}, "axis": {"title": null, "grid": true, "labels": false, "ticks": false, "values": [10,31.62,100,316.2,1000,3162,10000,31623,100000]}},
               "y2": {"field": "hi"}}},
            {"data": {"name": "boxes"}, "transform": [{"filter": "datum.taxon == 'Diatoms' && datum.site == '93.3/40'"}], "mark": {"type": "bar", "stroke": "#333333", "strokeWidth": 1, "width": {"band": 0.75}},
             "encoding": {"x": {"field": "gene", "type": "nominal"}, "y": {"field": "q1", "type": "quantitative"}, "y2": {"field": "q3"}, "fill": {"field": "gene", "type": "nominal", "scale": {"domain": ["pTF/ISIP3","Flavodoxin","PR-like","NRT1","HSP","RIBO","RUBISCO","PS I/II rel."], "range": ["#66c2a5","#fc8d62","#8da0cb","#e78ac3","#a6d854","#ffd92f","#e5c494","#b3b3b3"]}, "legend": null}}},
            {"data": {"name": "boxes"}, "transform": [{"filter": "datum.taxon == 'Diatoms' && datum.site == '93.3/40'"}], "mark": {"type": "tick", "color": "#333333", "thickness": 1.5, "opacity": 1},
             "encoding": {"x": {"field": "gene", "type": "nominal"}, "y": {"field": "med", "type": "quantitative"}}},
            {"data": {"name": "pts"}, "transform": [{"filter": "datum.taxon == 'Diatoms' && datum.site == '93.3/40'"}], "mark": {"type": "point", "shape": "circle", "filled": true, "stroke": "#333333", "strokeWidth": 0.8, "size": 26, "opacity": 1},
             "encoding": {"x": {"field": "gene", "type": "nominal"}, "y": {"field": "v", "type": "quantitative"}, "fill": {"field": "gene", "type": "nominal", "legend": null}}},
            {"data": {"name": "refl"}, "transform": [{"filter": "datum.taxon == 'Diatoms' && datum.site == '93.3/40'"}], "mark": {"type": "rule", "color": "#222222", "strokeWidth": 1}, "encoding": {"y": {"field": "solid", "type": "quantitative"}}},
            {"data": {"name": "refl"}, "transform": [{"filter": "datum.taxon == 'Diatoms' && datum.site == '93.3/40'"}], "mark": {"type": "rule", "color": "#333333", "strokeWidth": 1, "strokeDash": [5,4]}, "encoding": {"y": {"field": "dashed", "type": "quantitative"}}}
          ]},
          {"width": 21, "height": 128, "data": {"name": "labels"}, "transform": [{"filter": "datum.s == 'Diatoms'"}], "mark": {"type": "text", "fontSize": 16, "angle": 90, "color": "#1a1a1a"}, "encoding": {"text": {"field": "s", "type": "nominal"}}, "view": {"fill": "#d9d9d9", "stroke": "#333333", "strokeWidth": 1.2}}
        ]},

        {"width": 142, "height": 128, "layer": [
          {"data": {"name": "boxes"}, "transform": [{"filter": "datum.taxon == 'Dinoflagellates' && datum.site == '93.3/120'"}], "mark": {"type": "rule", "color": "#333333"},
           "encoding": {"x": {"field": "gene", "type": "nominal", "scale": {"domain": ["pTF/ISIP3","Flavodoxin","PR-like","NRT1","HSP","RIBO","RUBISCO","PS I/II rel."], "paddingInner": 0, "paddingOuter": 0.1}, "axis": {"title": null, "labelAngle": 270, "labelAlign": "right", "labelBaseline": "middle", "labelFontSize": 15.5, "labelPadding": 1, "grid": true}},
             "y": {"field": "lo", "type": "quantitative", "scale": {"type": "log", "domain": [6.3096, 158489], "nice": false}, "axis": {"title": null, "grid": true, "values": [10,31.62,100,316.2,1000,3162,10000,31623,100000], "labelExpr": "indexof([10,100,1000,10000,100000], datum.value) >= 0 ? '10' + ['¹','²','³','⁴','⁵'][indexof([10,100,1000,10000,100000], datum.value)] : ''", "tickOpacity": {"condition": {"test": "indexof([10,100,1000,10000,100000], datum.value) >= 0", "value": 1}, "value": 0}}},
             "y2": {"field": "hi"}}},
          {"data": {"name": "boxes"}, "transform": [{"filter": "datum.taxon == 'Dinoflagellates' && datum.site == '93.3/120'"}], "mark": {"type": "bar", "stroke": "#333333", "strokeWidth": 1, "width": {"band": 0.75}},
           "encoding": {"x": {"field": "gene", "type": "nominal"}, "y": {"field": "q1", "type": "quantitative"}, "y2": {"field": "q3"}, "fill": {"field": "gene", "type": "nominal", "scale": {"domain": ["pTF/ISIP3","Flavodoxin","PR-like","NRT1","HSP","RIBO","RUBISCO","PS I/II rel."], "range": ["#66c2a5","#fc8d62","#8da0cb","#e78ac3","#a6d854","#ffd92f","#e5c494","#b3b3b3"]}, "legend": null}}},
          {"data": {"name": "boxes"}, "transform": [{"filter": "datum.taxon == 'Dinoflagellates' && datum.site == '93.3/120'"}], "mark": {"type": "tick", "color": "#333333", "thickness": 1.5, "opacity": 1},
           "encoding": {"x": {"field": "gene", "type": "nominal"}, "y": {"field": "med", "type": "quantitative"}}},
          {"data": {"name": "pts"}, "transform": [{"filter": "datum.taxon == 'Dinoflagellates' && datum.site == '93.3/120'"}], "mark": {"type": "point", "shape": "circle", "filled": true, "stroke": "#333333", "strokeWidth": 0.8, "size": 26, "opacity": 1},
           "encoding": {"x": {"field": "gene", "type": "nominal"}, "y": {"field": "v", "type": "quantitative"}, "fill": {"field": "gene", "type": "nominal", "legend": null}}},
          {"data": {"name": "refl"}, "transform": [{"filter": "datum.taxon == 'Dinoflagellates' && datum.site == '93.3/120'"}], "mark": {"type": "rule", "color": "#666666", "strokeWidth": 1.2}, "encoding": {"y": {"field": "solid", "type": "quantitative"}}},
          {"data": {"name": "refl"}, "transform": [{"filter": "datum.taxon == 'Dinoflagellates' && datum.site == '93.3/120'"}], "mark": {"type": "rule", "color": "#222222", "strokeWidth": 1, "strokeDash": [5,4]}, "encoding": {"y": {"field": "dashed", "type": "quantitative"}}}
        ]},
        {"width": 142, "height": 128, "layer": [
          {"data": {"name": "boxes"}, "transform": [{"filter": "datum.taxon == 'Dinoflagellates' && datum.site == '93.3/80'"}], "mark": {"type": "rule", "color": "#333333"},
           "encoding": {"x": {"field": "gene", "type": "nominal", "scale": {"domain": ["pTF/ISIP3","Flavodoxin","PR-like","NRT1","HSP","RIBO","RUBISCO","PS I/II rel."], "paddingInner": 0, "paddingOuter": 0.1}, "axis": {"title": null, "labelAngle": 270, "labelAlign": "right", "labelBaseline": "middle", "labelFontSize": 15.5, "labelPadding": 1, "grid": true}},
             "y": {"field": "lo", "type": "quantitative", "scale": {"type": "log", "domain": [6.3096, 158489], "nice": false}, "axis": {"title": null, "grid": true, "labels": false, "ticks": false, "values": [10,31.62,100,316.2,1000,3162,10000,31623,100000]}},
             "y2": {"field": "hi"}}},
          {"data": {"name": "boxes"}, "transform": [{"filter": "datum.taxon == 'Dinoflagellates' && datum.site == '93.3/80'"}], "mark": {"type": "bar", "stroke": "#333333", "strokeWidth": 1, "width": {"band": 0.75}},
           "encoding": {"x": {"field": "gene", "type": "nominal"}, "y": {"field": "q1", "type": "quantitative"}, "y2": {"field": "q3"}, "fill": {"field": "gene", "type": "nominal", "scale": {"domain": ["pTF/ISIP3","Flavodoxin","PR-like","NRT1","HSP","RIBO","RUBISCO","PS I/II rel."], "range": ["#66c2a5","#fc8d62","#8da0cb","#e78ac3","#a6d854","#ffd92f","#e5c494","#b3b3b3"]}, "legend": null}}},
          {"data": {"name": "boxes"}, "transform": [{"filter": "datum.taxon == 'Dinoflagellates' && datum.site == '93.3/80'"}], "mark": {"type": "tick", "color": "#333333", "thickness": 1.5, "opacity": 1},
           "encoding": {"x": {"field": "gene", "type": "nominal"}, "y": {"field": "med", "type": "quantitative"}}},
          {"data": {"name": "pts"}, "transform": [{"filter": "datum.taxon == 'Dinoflagellates' && datum.site == '93.3/80'"}], "mark": {"type": "point", "shape": "circle", "filled": true, "stroke": "#333333", "strokeWidth": 0.8, "size": 26, "opacity": 1},
           "encoding": {"x": {"field": "gene", "type": "nominal"}, "y": {"field": "v", "type": "quantitative"}, "fill": {"field": "gene", "type": "nominal", "legend": null}}},
          {"data": {"name": "refl"}, "transform": [{"filter": "datum.taxon == 'Dinoflagellates' && datum.site == '93.3/80'"}], "mark": {"type": "rule", "color": "#666666", "strokeWidth": 1.2}, "encoding": {"y": {"field": "solid", "type": "quantitative"}}},
          {"data": {"name": "refl"}, "transform": [{"filter": "datum.taxon == 'Dinoflagellates' && datum.site == '93.3/80'"}], "mark": {"type": "rule", "color": "#222222", "strokeWidth": 1, "strokeDash": [5,4]}, "encoding": {"y": {"field": "dashed", "type": "quantitative"}}}
        ]},
        {"spacing": 0, "hconcat": [
          {"width": 142, "height": 128, "layer": [
            {"data": {"name": "boxes"}, "transform": [{"filter": "datum.taxon == 'Dinoflagellates' && datum.site == '93.3/40'"}], "mark": {"type": "rule", "color": "#333333"},
             "encoding": {"x": {"field": "gene", "type": "nominal", "scale": {"domain": ["pTF/ISIP3","Flavodoxin","PR-like","NRT1","HSP","RIBO","RUBISCO","PS I/II rel."], "paddingInner": 0, "paddingOuter": 0.1}, "axis": {"title": null, "labelAngle": 270, "labelAlign": "right", "labelBaseline": "middle", "labelFontSize": 15.5, "labelPadding": 1, "grid": true}},
               "y": {"field": "lo", "type": "quantitative", "scale": {"type": "log", "domain": [6.3096, 158489], "nice": false}, "axis": {"title": null, "grid": true, "labels": false, "ticks": false, "values": [10,31.62,100,316.2,1000,3162,10000,31623,100000]}},
               "y2": {"field": "hi"}}},
            {"data": {"name": "boxes"}, "transform": [{"filter": "datum.taxon == 'Dinoflagellates' && datum.site == '93.3/40'"}], "mark": {"type": "bar", "stroke": "#333333", "strokeWidth": 1, "width": {"band": 0.75}},
             "encoding": {"x": {"field": "gene", "type": "nominal"}, "y": {"field": "q1", "type": "quantitative"}, "y2": {"field": "q3"}, "fill": {"field": "gene", "type": "nominal", "scale": {"domain": ["pTF/ISIP3","Flavodoxin","PR-like","NRT1","HSP","RIBO","RUBISCO","PS I/II rel."], "range": ["#66c2a5","#fc8d62","#8da0cb","#e78ac3","#a6d854","#ffd92f","#e5c494","#b3b3b3"]}, "legend": null}}},
            {"data": {"name": "boxes"}, "transform": [{"filter": "datum.taxon == 'Dinoflagellates' && datum.site == '93.3/40'"}], "mark": {"type": "tick", "color": "#333333", "thickness": 1.5, "opacity": 1},
             "encoding": {"x": {"field": "gene", "type": "nominal"}, "y": {"field": "med", "type": "quantitative"}}},
            {"data": {"name": "pts"}, "transform": [{"filter": "datum.taxon == 'Dinoflagellates' && datum.site == '93.3/40'"}], "mark": {"type": "point", "shape": "circle", "filled": true, "stroke": "#333333", "strokeWidth": 0.8, "size": 26, "opacity": 1},
             "encoding": {"x": {"field": "gene", "type": "nominal"}, "y": {"field": "v", "type": "quantitative"}, "fill": {"field": "gene", "type": "nominal", "legend": null}}},
            {"data": {"name": "refl"}, "transform": [{"filter": "datum.taxon == 'Dinoflagellates' && datum.site == '93.3/40'"}], "mark": {"type": "rule", "color": "#666666", "strokeWidth": 1.2}, "encoding": {"y": {"field": "solid", "type": "quantitative"}}},
            {"data": {"name": "refl"}, "transform": [{"filter": "datum.taxon == 'Dinoflagellates' && datum.site == '93.3/40'"}], "mark": {"type": "rule", "color": "#222222", "strokeWidth": 1, "strokeDash": [5,4]}, "encoding": {"y": {"field": "dashed", "type": "quantitative"}}}
          ]},
          {"width": 21, "height": 128, "data": {"name": "labels"}, "transform": [{"filter": "datum.s == 'Dinoflagellates'"}], "mark": {"type": "text", "fontSize": 16, "angle": 90, "color": "#1a1a1a"}, "encoding": {"text": {"field": "s", "type": "nominal"}}, "view": {"fill": "#d9d9d9", "stroke": "#333333", "strokeWidth": 1.2}}
        ]}
      ]
    }
  ]
}
]
}
